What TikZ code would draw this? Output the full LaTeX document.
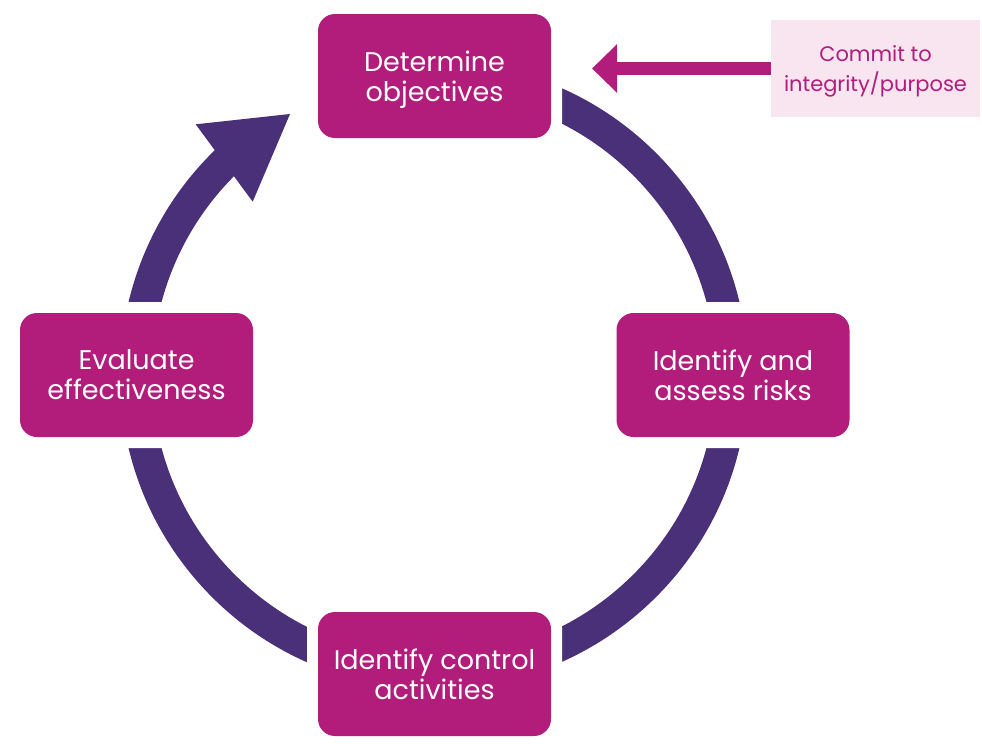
\documentclass[tikz,border=0pt]{standalone}
\usepackage{fontspec}
\setmainfont{Poppins}
\usetikzlibrary{arrows.meta}
\definecolor{ringpurple}{RGB}{74,48,121}
\definecolor{stepmag}{RGB}{178,29,123}
\definecolor{notepink}{RGB}{248,229,240}
\begin{document}
\begin{tikzpicture}[x=1pt,y=-1pt,
  stepbox/.style={fill=stepmag, text=white, rounded corners=17pt,
    minimum width=233pt, minimum height=124pt, inner sep=0pt,
    align=center, text depth=0pt, font=\fontsize{27}{30}\selectfont},
  halo/.style={fill=white, rounded corners=26pt,
    minimum width=255pt, minimum height=146pt, inner sep=0pt},
  ring/.style={draw=ringpurple, line width=32pt},
  notebox/.style={fill=notepink, text=stepmag, minimum width=209pt,
    minimum height=97pt, inner sep=0pt, align=center, text depth=0pt,
    font=\fontsize{21}{30}\selectfont},
  pointer/.style={draw=stepmag, line width=13.3pt,
    -{Triangle[length=25pt,width=47pt]}}]
\useasboundingbox (0,0) rectangle (982,744);

% cycle ring with its arrowhead
\coordinate (ctr) at (434,375);
\draw[ring] (ctr) ++(227:298) arc[start angle=227, end angle=-110, radius=298];
\fill[ringpurple] (195.7,124.3) -- (290,114) -- (252.7,201.7) -- cycle;

% white clearances around the steps
\node[halo] (hobj)  at (434.5,76)  {};
\node[halo] (hrisk) at (733,375)   {};
\node[halo] (hctl)  at (434.5,674) {};
\node[halo] (heval) at (136.5,375) {};

% steps
\node[stepbox] (obj)  at (hobj)  {Determine\\objectives};
\node[stepbox] (risk) at (hrisk) {Identify and\\assess risks};
\node[stepbox] (ctl)  at (hctl)  {Identify control\\activities};
\node[stepbox] (eval) at (heval) {Evaluate\\effectiveness};

% commitment note feeding the objectives
\node[notebox] (commit) at (875.5,68.5) {Commit to\\integrity/purpose};
\coordinate (intake) at (592,68.5);
\draw[pointer] (commit.west) -- (intake);
\end{tikzpicture}
\end{document}
